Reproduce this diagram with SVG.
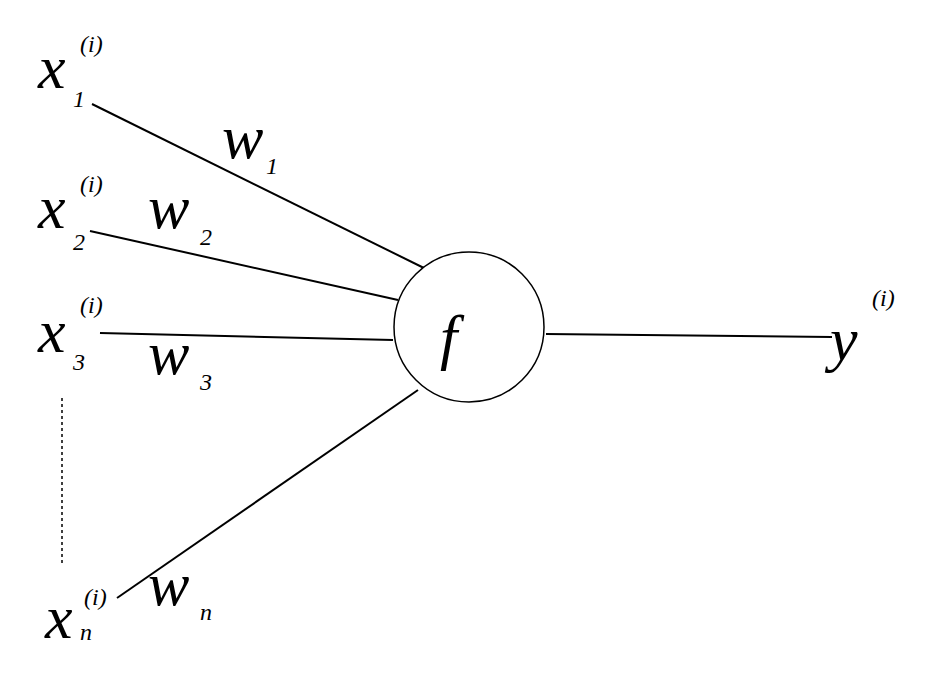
<svg xmlns="http://www.w3.org/2000/svg" width="928" height="686" viewBox="0 0 928 686">
<style>
text{font-family:"Liberation Serif","Times New Roman",serif;font-style:italic;fill:#000}
.b{font-size:62px}.s{font-size:24px}
.l{stroke:#000;stroke-width:2;fill:none}
</style>
<rect width="928" height="686" fill="#fff"/>
<g id="connectors">
<line class="l" x1="92" y1="104" x2="428" y2="270"/>
<line class="l" x1="90" y1="231" x2="398" y2="300"/>
<line class="l" x1="100" y1="333" x2="393" y2="340"/>
<line class="l" x1="117" y1="598" x2="418" y2="390"/>
<line class="l" x1="546" y1="334" x2="832" y2="337"/>
<line x1="62" y1="398" x2="62" y2="565" stroke="#000" stroke-width="1.5" stroke-dasharray="3,3"/>
</g>
<g id="f"><circle cx="469" cy="327" r="75" fill="#fff" stroke="#000" stroke-width="1.5"/><text class="b" x="440" y="358">f</text></g>
<g id="x1"><text class="b" x="38" y="88">x</text><text class="s" x="80" y="52">(i)</text><text class="s" x="73" y="107">1</text></g>
<g id="x2"><text class="b" x="38" y="228">x</text><text class="s" x="80" y="192">(i)</text><text class="s" x="73" y="250">2</text></g>
<g id="x3"><text class="b" x="38" y="352">x</text><text class="s" x="80" y="313">(i)</text><text class="s" x="73" y="370">3</text></g>
<g id="xn"><text class="b" x="45" y="638">x</text><text class="s" x="84" y="605">(i)</text><text class="s" x="80" y="640">n</text></g>
<g id="w1"><text class="b" x="222" y="158">w</text><text class="s" x="266" y="174">1</text></g>
<g id="w2"><text class="b" x="148" y="228">w</text><text class="s" x="200" y="245">2</text></g>
<g id="w3"><text class="b" x="148" y="374">w</text><text class="s" x="200" y="390">3</text></g>
<g id="wn"><text class="b" x="148" y="605">w</text><text class="s" x="200" y="620">n</text></g>
<g id="y"><text class="b" x="830" y="360">y</text><text class="s" x="872" y="306">(i)</text></g>
</svg>
